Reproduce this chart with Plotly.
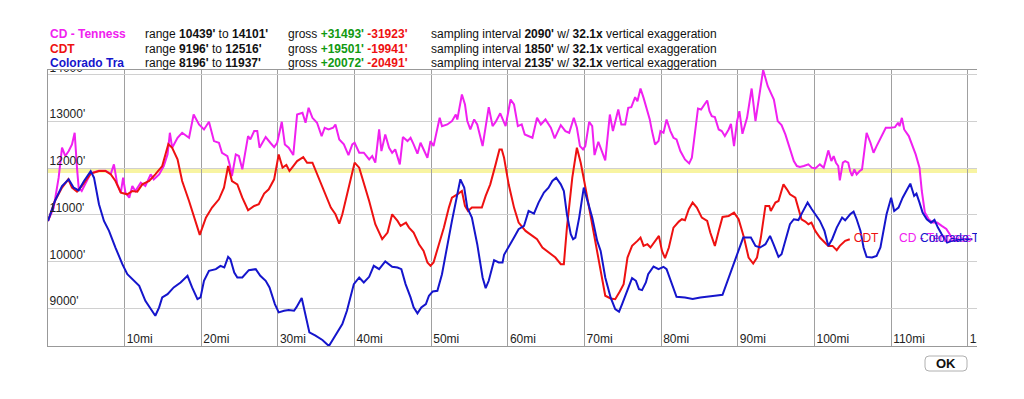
import plotly.graph_objects as go

# ---------------- data (miles, feet) ----------------
cd_miles = [0.0, 0.74, 1.39, 1.83, 2.26, 2.7, 3.13, 3.48, 3.78, 4.0, 4.4, 5.57, 6.65, 7.5, 8.2, 8.6, 9.04, 9.5, 9.8, 10.1,
            10.6, 11.0, 11.4, 12.1, 12.7, 13.4, 13.8, 14.5, 15.1, 15.6, 15.9, 16.2, 16.9, 17.5, 18.4, 19.0, 19.7,
            20.35, 21.0, 21.65, 22.3, 22.7, 23.4, 23.7, 24.0, 24.5, 24.9, 25.35, 26.1, 26.4, 26.9, 27.3, 27.6, 28.4,
            29.0, 29.5, 29.9, 30.5, 30.9, 31.4, 32.0, 32.5, 33.2, 33.6, 34.0, 34.5, 35.1, 35.7, 36.1, 36.6, 37.2,
            37.5, 38.0, 38.6, 39.2, 39.7, 40.0, 40.6, 41.2, 41.9, 42.3, 42.7, 43.2, 43.5, 44.0, 44.5, 44.9, 45.3,
            45.9, 46.3, 46.9, 47.3, 47.7, 48.2, 48.6, 49.0, 49.5, 49.9, 50.3, 51.1, 51.4, 52.1, 52.7, 53.2, 53.4,
            54.0, 54.4, 54.7, 55.1, 55.6, 56.0, 56.7, 57.1, 57.5, 58.0, 58.4, 59.0, 59.7, 60.35, 60.8, 61.3, 61.8,
            62.2, 62.7, 63.2, 63.8, 64.3, 64.9, 65.6, 66.1, 66.9, 67.5, 68.0, 68.6, 69.0, 69.4, 69.8, 70.1, 70.6,
            71.0, 71.3, 71.8, 72.3, 72.7, 73.3, 73.7, 74.4, 74.8, 75.3, 75.7, 76.1, 76.6, 76.9, 77.3, 77.7, 78.2,
            78.5, 78.8, 79.2, 79.65, 79.9, 80.3, 80.7, 81.2, 81.6, 82.0, 82.5, 83.1, 83.65, 84.0, 84.3, 84.8, 85.2,
            85.5, 86.0, 86.3, 86.6, 87.0, 87.5, 87.9, 88.3, 88.8, 89.1, 89.5, 89.9, 90.2, 90.6, 91.2, 91.8, 92.3,
            92.7, 93.3, 93.9, 94.7, 95.2, 95.7, 96.2, 96.7, 97.3, 97.7, 98.1, 98.6, 99.2, 99.65, 100.1, 100.7,
            101.2, 101.5, 101.8, 102.2, 102.5, 102.8, 103.1, 103.3, 103.7, 104.0, 104.4, 104.65, 104.9, 105.2,
            105.5, 105.9, 106.2, 106.5, 106.8, 107.3, 107.7, 108.1, 108.6, 109.0, 109.3, 109.9, 110.5, 110.9,
            111.1, 111.4, 111.7, 112.3, 112.7, 113.2, 113.7, 114.0, 114.4, 114.9, 115.4, 116.0, 116.6, 117.2,
            117.6, 118.0]
cd_feet = [10870, 11157, 11797, 12438, 12260, 12367, 12509, 12758, 12011, 11584, 11512, 11890, 11945, 11945, 11880,
           12082, 11655, 11477, 11797, 11477, 11370, 11619, 11512, 11690, 11619, 11868, 11762, 11868, 12046, 12295,
           12758, 12438, 12651, 12758, 12651, 13149, 12936, 12829, 12993, 12580, 12545, 12331, 12260, 12082, 11833,
           12295, 12260, 11975, 12687, 12616, 12794, 12794, 12438, 12666, 12545, 12452, 12545, 12993, 12509, 12438,
           12281, 13149, 13185, 12972, 13292, 13078, 12972, 12687, 12865, 12829, 12865, 12936, 12616, 12509, 12281,
           12509, 12545, 12331, 12331, 12189, 12260, 12118, 12829, 12367, 12722, 12438, 12331, 12402, 12082, 12666,
           12580, 12651, 12509, 12310, 12545, 12402, 12224, 12580, 12473, 13078, 12900, 12936, 13007, 13149, 13043,
           13576, 13363, 13007, 12829, 13043, 12936, 12473, 12900, 13306, 12900, 12990, 13175, 12900, 13470, 13363,
           12900, 12936, 12722, 12687, 12651, 13078, 12936, 13043, 12865, 12637, 12922, 12794, 12758, 13078, 12865,
           12473, 12402, 12473, 12993, 12900, 12281, 12566, 12331, 12167, 13149, 12794, 13256, 12936, 12936, 13292,
           13306, 13520, 13434, 13705, 13505, 13221, 13050, 12794, 12509, 12580, 12794, 12758, 13043, 12794, 12651,
           12616, 12367, 12189, 12103, 12224, 12651, 13278, 13256, 13327, 13448, 13221, 13114, 13093, 12829, 12794,
           12687, 12829, 12950, 12473, 13007, 13221, 12737, 13078, 13705, 13007, 13470, 14101, 13755, 13470, 13007,
           12922, 12722, 12438, 12153, 12046, 12025, 12046, 12082, 12011, 11996, 12082, 12011, 12189, 12381, 12153,
           12260, 12118, 12046, 11740, 12118, 12153, 12118, 11940, 11833, 11975, 11868, 11940, 11975, 12367, 12758,
           12545, 12331, 12473, 12651, 12758, 12865, 12865, 12879, 12972, 12900, 13078, 12829, 12687, 12509, 12295,
           12011, 11512, 11050, 10908, 10836, 10836, 10765, 10700, 10600, 10480]

cdt_miles = [0.0, 0.9, 1.83, 2.65, 3.13, 3.78, 4.4, 5.57, 6.65, 7.5, 8.2, 8.8, 9.5, 10.35, 11.0, 11.65, 12.3, 13.2,
             14.0, 14.9, 15.7, 16.2, 16.9, 17.5, 18.4, 19.3, 19.8, 20.6, 21.4, 22.3, 22.96, 23.5, 24.0, 24.7, 25.35,
             26.1, 26.9, 27.5, 28.2, 28.8, 29.5, 30.1, 30.6, 31.1, 31.5, 32.0, 32.5, 33.3, 33.8, 34.5, 35.1, 36.0,
             36.9, 37.5, 38.0, 38.4, 39.0, 39.5, 40.0, 40.6, 41.2, 41.9, 42.7, 43.6, 44.3, 44.9, 45.6, 46.0, 46.7,
             47.1, 47.7, 48.4, 49.0, 49.5, 49.9, 50.3, 51.0, 51.65, 52.3, 52.7, 53.4, 54.0, 54.4, 54.8, 55.3, 56.0,
             56.6, 57.1, 57.7, 58.4, 58.9, 59.2, 59.5, 60.1, 60.8, 61.4, 62.3, 63.2, 63.8, 64.5, 65.3, 66.2, 66.9,
             67.3, 67.7, 68.4, 69.0, 69.5, 70.0, 70.8, 71.4, 72.2, 72.7, 73.4, 74.0, 74.6, 75.1, 75.6, 76.2, 76.9,
             77.3, 77.7, 78.2, 78.6, 79.2, 79.7, 80.1, 80.5, 81.0, 81.6, 82.3, 82.7, 83.1, 83.6, 84.1, 84.65, 85.3,
             86.0, 86.4, 87.0, 87.5, 88.0, 88.8, 89.5, 90.1, 90.8, 91.4, 92.0, 92.5, 93.0, 93.6, 94.1, 94.3, 94.9,
             95.3, 95.95, 96.4, 96.8, 97.5, 97.9, 98.3, 98.8, 99.2, 99.6, 100.1, 100.7, 101.4, 101.8, 102.35, 102.9,
             103.3, 104.0, 104.6]
cdt_feet = [10870, 11299, 11584, 11762, 11584, 11498, 11619, 11883, 11940, 11940, 11868, 11726, 11477, 11441, 11512,
            11498, 11655, 11726, 11868, 12046, 12516, 12438, 12189, 11726, 11299, 10801, 10573, 10943, 11157, 11335,
            11584, 12046, 11726, 11655, 11370, 11100, 11192, 11228, 11456, 11548, 11762, 12295, 12011, 12068, 11940,
            12046, 12153, 12238, 12118, 12118, 11868, 11512, 11157, 11014, 10815, 11014, 11441, 11797, 12118, 12011,
            11690, 11299, 10801, 10481, 10623, 11014, 10872, 10765, 10836, 10729, 10623, 10374, 10231, 9983, 9911,
            9983, 10374, 10729, 11157, 11370, 11441, 11512, 11192, 11086, 11157, 11157, 11157, 11406, 11655, 12082,
            12402, 12402, 12224, 11655, 11157, 10836, 10658, 10552, 10481, 10303, 10196, 10089, 9947, 9947, 10729,
            11797, 12438, 12118, 11690, 10978, 10445, 9733, 9271, 9214, 9196, 9363, 9520, 10089, 10338, 10445, 10516,
            10338, 10374, 10303, 10445, 10552, 10231, 10075, 10303, 10729, 10858, 10908, 10886, 11121, 11264, 11157,
            10943, 10872, 10623, 10338, 10658, 10958, 10979, 11050, 10908, 10516, 10089, 9961, 10089, 10516, 11192,
            11192, 11086, 11264, 11299, 11655, 11548, 11441, 11370, 11157, 10908, 10858, 10801, 10836, 10658, 10516,
            10410, 10338, 10338, 10246, 10338, 10445, 10481]

ct_miles = [0.0, 0.9, 1.83, 2.7, 3.35, 4.0, 4.7, 5.57, 6.0, 6.65, 7.3, 7.96, 8.8, 9.7, 10.35, 11.2, 11.9, 12.7, 13.4,
            14.0, 14.5, 14.9, 15.6, 16.4, 17.3, 18.2, 18.8, 19.5, 19.9, 20.35, 21.0, 21.9, 22.5, 23.0, 23.5, 23.8,
            24.3, 24.7, 25.35, 26.2, 27.1, 27.7, 28.4, 28.9, 29.6, 30.1, 30.8, 31.4, 32.1, 32.4, 33.1, 33.5, 34.1,
            34.9, 35.8, 36.65, 37.3, 38.0, 38.4, 39.0, 39.3, 39.9, 40.6, 41.2, 41.9, 42.5, 43.2, 44.0, 44.9, 45.6,
            46.1, 46.65, 47.3, 47.7, 48.2, 48.7, 49.3, 49.7, 50.2, 50.8, 51.4, 52.1, 52.7, 53.4, 53.8, 54.3, 54.7,
            55.3, 56.0, 56.7, 57.1, 57.5, 58.2, 58.8, 59.3, 59.5, 60.1, 60.8, 61.4, 62.1, 62.7, 63.4, 64.0, 64.7,
            65.3, 65.8, 66.3, 66.9, 67.3, 67.7, 68.2, 68.5, 68.8, 69.3, 69.9, 70.3, 71.0, 71.65, 72.1, 72.7, 73.4,
            74.0, 74.5, 74.9, 75.6, 76.2, 76.7, 77.1, 77.5, 78.0, 78.3, 79.0, 79.65, 80.3, 80.7, 81.4, 82.0, 83.1,
            84.1, 85.1, 86.2, 87.0, 88.0, 88.8, 89.65, 90.3, 90.7, 91.2, 91.7, 92.3, 92.9, 93.6, 94.2, 94.65, 95.3,
            95.7, 96.2, 96.8, 97.3, 97.9, 98.4, 99.1, 99.65, 100.3, 100.7, 101.3, 101.8, 102.3, 102.9, 103.6, 104.0,
            104.65, 105.1, 105.5, 106.0, 106.4, 106.8, 107.5, 108.1, 108.6, 109.0, 109.4, 110.0, 110.4, 110.96,
            111.5, 112.1, 112.5, 113.0, 113.3, 113.7, 114.1, 114.65, 115.2, 115.65, 116.1, 116.6, 117.3, 117.9,
            118.8, 119.4, 120.6]
ct_feet = [10870, 11299, 11619, 11762, 11584, 11527, 11726, 11937, 11797, 11228, 10872, 10659, 10303, 9947, 9733,
           9591, 9484, 9164, 8986, 8844, 9022, 9235, 9306, 9449, 9555, 9698, 9449, 9200, 9235, 9591, 9804, 9840, 9911,
           9876, 10103, 10053, 9769, 9662, 9662, 9818, 9840, 9698, 9591, 9449, 9093, 8915, 8950, 8965, 8950, 9022,
           9221, 8950, 8488, 8417, 8324, 8196, 8381, 8559, 8666, 8950, 9164, 9520, 9662, 9555, 9676, 9911, 9840,
           10004, 9890, 9876, 9840, 9520, 9235, 9022, 8894, 9022, 9093, 9271, 9363, 9377, 9733, 10374, 10872, 11441,
           11762, 11584, 11157, 10943, 10374, 9662, 9434, 9591, 10033, 9983, 9983, 10146, 10303, 10516, 10694, 10765,
           11086, 11029, 11264, 11477, 11584, 11726, 11797, 11655, 11512, 11014, 10587, 10481, 10516, 10943, 11584,
           11370, 10943, 10445, 10231, 9662, 9235, 8986, 8929, 9093, 9413, 9648, 9591, 9413, 9392, 9555, 9733, 9897,
           9840, 9890, 9840, 9520, 9249, 9235, 9200, 9235, 9249, 9271, 9292, 9662, 10054, 10338, 10516, 10516, 10516,
           10338, 10303, 10374, 10552, 10374, 10103, 10160, 10445, 10801, 10908, 10890, 11050, 11264, 11121, 10979,
           10872, 10658, 10338, 10481, 10729, 10943, 10886, 11014, 11071, 10908, 10658, 10303, 10103, 10089, 10125,
           10303, 10658, 11014, 11370, 11086, 11157, 11370, 11548, 11669, 11406, 11456, 11264, 11050, 10908, 10836,
           10893, 10729, 10587, 10409, 10445, 10459, 10481, 10481]

series_names = ["CD - Tenness", "CDT", "Colorado Tra"]
range_low = [10439, 9196, 8196]
range_high = [14101, 12516, 11937]
gross_gain = [31493, 19501, 20072]
gross_loss = [31923, 19941, 20491]
sampling_ft = [2090, 1850, 2135]
exaggeration = 32.1

y_ticks = [9000, 10000, 11000, 12000, 13000, 14000]
x_ticks = [10, 20, 30, 40, 50, 60, 70, 80, 90, 100, 110, 120]
highlight_band = [11895, 12005]

# ---------------- layout constants ----------------
# page has an 8px body margin, so the figure starts at page (8, 8)
OFF = 8
W, H = 1024 - OFF, 399 - OFF
ML, MR, MT, MB = 48 - OFF, 47, 70 - OFF, 53
X_RANGE = [0, 121.2]
Y_RANGE = [8196, 14101]
FONT = "Liberation Sans, Arial, Helvetica, sans-serif"
C_CD, C_CDT, C_CT = "#f020f0", "#ee1111", "#1515cc"
GREEN = "#119911"

PW = W - ML - MR
PH = H - MT - MB
mi_per_px = (X_RANGE[1] - X_RANGE[0]) / PW


def px_x(px):  # page pixel -> paper x
    return (px - OFF - ML) / PW


def px_y(py):  # page pixel -> paper y
    return (H - MB - (py - OFF)) / PH


fig = go.Figure()

# highlight band (above grid, below traces)
fig.add_shape(type="rect", xref="x", yref="y", x0=X_RANGE[0], x1=X_RANGE[1],
              y0=highlight_band[0], y1=highlight_band[1],
              fillcolor="#f8f4a2", line_width=0, layer="below")

# series lines
for xs, ys, col, nm in [(cd_miles, cd_feet, C_CD, series_names[0]),
                        (cdt_miles, cdt_feet, C_CDT, series_names[1]),
                        (ct_miles, ct_feet, C_CT, series_names[2])]:
    fig.add_trace(go.Scatter(x=xs, y=ys, mode="lines", name=nm,
                             line=dict(color=col, width=2), hoverinfo="skip"))

# end labels (clipped to plot area)
label_specs = [
    (cdt_miles[-1] + 4 * mi_per_px, cdt_feet[-1], "CDT", C_CDT),
    (X_RANGE[0] + (899 - 48) * mi_per_px, cd_feet[-1], "CD - Tenness", C_CD),
    (X_RANGE[0] + (920 - 48) * mi_per_px, ct_feet[-1], "Colorado Trail", C_CT),
]
for lx, ly, txt, col in label_specs:
    fig.add_trace(go.Scatter(x=[lx], y=[ly], mode="text", text=[txt],
                             textposition="middle right", cliponaxis=True,
                             textfont=dict(family=FONT, size=12, color=col),
                             hoverinfo="skip"))

# y tick labels inside plot
fig.add_trace(go.Scatter(x=[X_RANGE[0] + 1.6 * mi_per_px] * len(y_ticks), y=y_ticks,
                         text=[f"{v}'" for v in y_ticks], mode="text",
                         textposition="top right", cliponaxis=True,
                         textfont=dict(family=FONT, size=12, color="#222"), hoverinfo="skip"))
# x tick labels inside plot
fig.add_trace(go.Scatter(x=[v + 2 * mi_per_px for v in x_ticks], y=[Y_RANGE[0]] * len(x_ticks),
                         text=[f"{v}mi" for v in x_ticks], mode="text",
                         textposition="top right", cliponaxis=True,
                         textfont=dict(family=FONT, size=12, color="#222"), hoverinfo="skip"))

# header
row_py = [34, 48.7, 63.3]
colors = [C_CD, C_CDT, C_CT]
anns = []
for i in range(3):
    yy = px_y(row_py[i])
    cols = [
        (48, f"<b><span style='color:{colors[i]}'>{series_names[i]}</span></b>"),
        (143, f"range <b>{range_low[i]}'</b> to <b>{range_high[i]}'</b>"),
        (286, f"gross <b><span style='color:{GREEN}'>+{gross_gain[i]}'</span> "
              f"<span style='color:{C_CDT}'>-{gross_loss[i]}'</span></b>"),
        (429, f"sampling interval <b>{sampling_ft[i]}'</b> w/ <b>{exaggeration}x</b> vertical exaggeration"),
    ]
    for px, txt in cols:
        anns.append(dict(x=px_x(px), y=yy, xref="paper", yref="paper", text=txt,
                         showarrow=False, xanchor="left", yanchor="middle",
                         font=dict(family=FONT, size=12, color="#111")))

# OK button
bx0, bx1, by0, by1 = px_x(925), px_x(967), px_y(371), px_y(356)
rx, ry = 4 / PW, 4 / PH
path = (f"M {bx0+rx},{by0} L {bx1-rx},{by0} Q {bx1},{by0} {bx1},{by0+ry} "
        f"L {bx1},{by1-ry} Q {bx1},{by1} {bx1-rx},{by1} L {bx0+rx},{by1} "
        f"Q {bx0},{by1} {bx0},{by1-ry} L {bx0},{by0+ry} Q {bx0},{by0} {bx0+rx},{by0} Z")
fig.add_shape(type="path", xref="paper", yref="paper", path=path,
              line=dict(color="#b0b0b0", width=1), fillcolor="white")
anns.append(dict(x=(bx0 + bx1) / 2, y=(by0 + by1) / 2, xref="paper", yref="paper",
                 text="<b>OK</b>", showarrow=False, xanchor="center", yanchor="middle",
                 font=dict(family=FONT, size=13, color="#111")))

fig.update_layout(
    width=W, height=H,
    margin=dict(l=ML, r=MR, t=MT, b=MB, pad=0),
    paper_bgcolor="white", plot_bgcolor="white",
    showlegend=False,
    annotations=anns,
    xaxis=dict(range=X_RANGE, tick0=0, dtick=10, showgrid=True, gridcolor="#a0a0a0", gridwidth=1,
               showticklabels=False, ticks="", zeroline=False,
               showline=True, linecolor="#999", linewidth=1, mirror=True, fixedrange=True),
    yaxis=dict(range=Y_RANGE, tick0=0, dtick=1000, showgrid=True, gridcolor="#d0d0d0", gridwidth=1,
               showticklabels=False, ticks="", zeroline=False,
               showline=True, linecolor="#999", linewidth=1, mirror=False, fixedrange=True),
)

fig.write_html("out.html", config={"displayModeBar": False})
